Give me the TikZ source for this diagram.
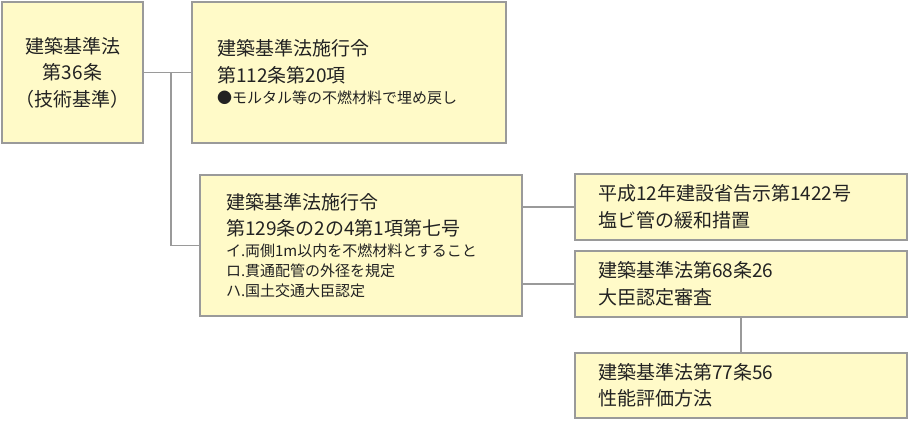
\documentclass[tikz,border=0pt]{standalone}
\usepackage{fontspec}
\newfontfamily\jp{Noto Sans CJK JP}
\definecolor{boxfill}{HTML}{FFFAC8}
\definecolor{edge}{HTML}{9A9A9A}
\definecolor{ink}{HTML}{222222}
\newcommand{\smalltxt}{\fontsize{15}{20}\selectfont}
\begin{document}
\begin{tikzpicture}[x=1pt,y=-1pt,
  box/.style={draw=edge, line width=1.5pt, fill=boxfill, rectangle, text=ink,
    font=\jp\fontsize{19}{26.5}\selectfont, inner ysep=0pt, anchor=center},
  link/.style={draw=edge, line width=1.5pt}]
\useasboundingbox (0,0) rectangle (909,420);
\node[box, align=center, minimum width=141pt, minimum height=141pt, inner xsep=0pt] (a) at (72.5,72.5)
  {建築基準法\\第36条\\（技術基準）};
\node[box, align=left, text width=264pt, inner xsep=25pt, minimum height=141pt] (b) at (349,72.5)
  {建築基準法施行令\\第112条第20項\\[-5pt]{\smalltxt ●モルタル等の不燃材料で埋め戻し}};
\node[box, align=left, text width=270pt, inner xsep=26pt, minimum height=141pt] (c) at (361,245.5)
  {建築基準法施行令\\第129条の2の4第1項第七号\\[-6pt]{\smalltxt イ.両側1m以内を不燃材料とすること}\\[-6.5pt]{\smalltxt ロ.貫通配管の外径を規定}\\[-6.5pt]{\smalltxt ハ.国土交通大臣認定}};
\node[box, align=left, text width=286pt, inner xsep=23pt, minimum height=66pt] (d) at (741,207)
  {平成12年建設省告示第1422号\\塩ビ管の緩和措置};
\node[box, align=left, text width=286pt, inner xsep=23pt, minimum height=66pt] (e) at (741,284)
  {建築基準法第68条26\\大臣認定審査};
\node[box, align=left, text width=286pt, inner xsep=23pt, minimum height=65pt] (f) at (741,385.5)
  {建築基準法第77条56\\性能評価方法};
\coordinate (j) at (171,72.5);
\draw[link] (a.east) -- (b.west);
\draw[link] (j) |- (c.west);
\draw[link] (d.west) -- (d.west -| c.east);
\draw[link] (e.west) -- (e.west -| c.east);
\draw[link] (e.south) -- (f.north);
\end{tikzpicture}
\end{document}
